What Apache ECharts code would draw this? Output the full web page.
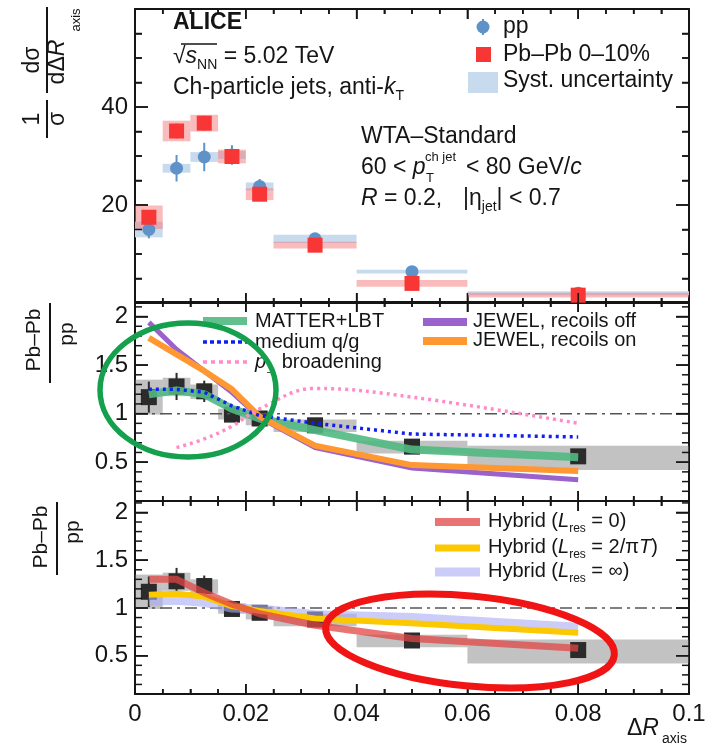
<!DOCTYPE html>
<html>
<head>
<meta charset="utf-8">
<title>ALICE WTA-Standard</title>
<script src="https://cdn.jsdelivr.net/npm/echarts@6/dist/echarts.min.js"></script>
<style>
  html, body { margin: 0; padding: 0; background: #fff; }
  #chart { width: 716px; height: 743px; }
</style>
</head>
<body>
<div id="chart"></div>
<script>
// bins in delta R_axis
var binLo = [0, 0.005, 0.01, 0.015, 0.02, 0.025, 0.04, 0.06];
var binHi = [0.005, 0.01, 0.015, 0.02, 0.025, 0.04, 0.06, 0.1];
var binX = [0.0025, 0.0075, 0.0125, 0.0175, 0.0225, 0.0325, 0.05, 0.08];

// top panel: normalised distributions
var ppVal = [15.0, 27.5, 29.8, 30.2, 23.8, 13.1, 6.4, 2.0];
var ppStat = [1.8, 2.7, 2.9, 2.0, 1.5, 0.6, 0.3, 0.2];
var ppSyst = [1.6, 0.9, 1.0, 0.8, 0.8, 0.85, 0.4, 0.4];
var pbVal = [17.5, 35.1, 36.7, 29.9, 22.2, 11.8, 4.0, 1.6];
var pbStat = [1.0, 1.5, 1.5, 1.5, 1.0, 0.5, 0.3, 0.2];
var pbSyst = [2.4, 2.1, 1.7, 1.4, 1.2, 0.7, 0.7, 0.5];

// Pb-Pb / pp ratio (same in both lower panels)
var ratio = [1.17, 1.28, 1.23, 0.99, 0.95, 0.88, 0.66, 0.56];
var ratioStat = [0.16, 0.14, 0.11, 0.04, 0.07, 0.03, 0.03, 0.03];
var ratioSystLo = [0.99, 1.18, 1.15, 0.94, 0.88, 0.81, 0.59, 0.42];
var ratioSystHi = [1.35, 1.37, 1.30, 1.05, 1.02, 0.94, 0.72, 0.67];

// models, middle panel
var matterLbt = [1.20, 1.24, 1.20, 1.05, 0.95, 0.83, 0.63, 0.55];
var mediumQg = [1.25, 1.25, 1.22, 1.08, 0.98, 0.90, 0.79, 0.76];
var ptBroad = [null, 0.65, 0.74, 0.87, 1.05, 1.26, 1.17, 0.90];
var jewelOff = [1.94, 1.66, 1.44, 1.22, 0.96, 0.65, 0.44, 0.32];
var jewelOn = [1.78, 1.61, 1.44, 1.25, 0.97, 0.67, 0.47, 0.41];

// models, bottom panel
var hybrid0 = [1.30, 1.30, 1.16, 1.04, 0.94, 0.82, 0.68, 0.58];
var hybrid2piT = [1.14, 1.15, 1.12, 1.02, 0.97, 0.89, 0.84, 0.74];
var hybridInf = [1.07, 1.08, 1.06, 1.00, 0.99, 0.93, 0.90, 0.80];

// ticks
var xMajorTicks = [0.02, 0.04, 0.06, 0.08];
var xMinorTicks = [0.005, 0.01, 0.015, 0.025, 0.03, 0.035, 0.045, 0.05, 0.055, 0.065, 0.07, 0.075, 0.085, 0.09, 0.095];
var topTicks = [20, 40];
var topMinorTicks = [5, 10, 15, 25, 30, 35, 45, 50, 55];
var ratioTicks = [0.5, 1, 1.5, 2];
var ratioMinorTicks = [0.2, 0.3, 0.4, 0.6, 0.7, 0.8, 0.9, 1.1, 1.2, 1.3, 1.4, 1.6, 1.7, 1.8, 1.9, 2.1];

var panelYMin = [0, 0.1, 0.1];
var panelYMax = [60, 2.15, 2.12];

var FONT = '"Liberation Sans", Arial, Helvetica, sans-serif';
var INK = '#151515';

var chart = echarts.init(document.getElementById('chart'));

function pairs(xs, ys) { return xs.map(function (x, i) { return [x, ys[i]]; }); }
function boxes(c, h) { return binLo.map(function (lo, i) { return [lo, binHi[i], c[i] - h[i], c[i] + h[i]]; }); }
function bandBoxes(lo, hi) { return binLo.map(function (l, i) { return [l, binHi[i], lo[i], hi[i]]; }); }
function bars(c, e) { return binX.map(function (x, i) { return [x, c[i] - e[i], c[i] + e[i]]; }); }

function boxRenderer(fill) {
    return function (params, api) {
        var a = api.coord([api.value(0), api.value(3)]);
        var b = api.coord([api.value(1), api.value(2)]);
        return { type: 'rect', shape: { x: a[0], y: a[1], width: b[0] - a[0], height: b[1] - a[1] }, style: { fill: fill } };
    };
}
function errRenderer(color, w) {
    return function (params, api) {
        var a = api.coord([api.value(0), api.value(1)]);
        var b = api.coord([api.value(0), api.value(2)]);
        return { type: 'line', shape: { x1: a[0], y1: a[1], x2: b[0], y2: b[1] }, style: { stroke: color, lineWidth: w } };
    };
}

// p = panel index (0 top, 1 middle, 2 bottom)
function boxSeries(p, data, fill) {
    return { type: 'custom', xAxisIndex: 2 * p, yAxisIndex: 2 * p, data: data, silent: true,
        encode: { x: [0, 1], y: [2, 3] }, renderItem: boxRenderer(fill) };
}
function errSeries(p, data, color, w) {
    return { type: 'custom', xAxisIndex: 2 * p, yAxisIndex: 2 * p, data: data, silent: true,
        encode: { x: 0, y: [1, 2] }, renderItem: errRenderer(color, w) };
}
function pointSeries(p, ys, symbol, size, color) {
    return { type: 'scatter', xAxisIndex: 2 * p, yAxisIndex: 2 * p, data: pairs(binX, ys),
        symbol: symbol, symbolSize: size, itemStyle: { color: color, opacity: 1 }, silent: true };
}
function modelSeries(p, ys, color, width, dash, smooth) {
    return { type: 'line', xAxisIndex: 2 * p, yAxisIndex: 2 * p, data: pairs(binX, ys),
        showSymbol: false, symbol: 'none', smooth: smooth || false, silent: true, connectNulls: false,
        lineStyle: { color: color, width: width, type: dash || 'solid', cap: 'butt', join: 'round' } };
}
function unitLine(p) {
    return { type: 'line', xAxisIndex: 2 * p, yAxisIndex: 2 * p, data: [[0, 1], [0.1, 1]],
        showSymbol: false, symbol: 'none', silent: true,
        lineStyle: { color: '#555', width: 1.5, type: [12, 5, 3, 5] } };
}

var AXIS_LINE = { show: true, onZero: false, lineStyle: { color: INK, width: 2 } };
var TICK_STYLE = { color: INK, width: 1.5 };

var grids = [
    { left: 135, right: 27, top: 9, height: 294 },
    { left: 135, right: 27, top: 302, height: 199 },
    { left: 135, right: 27, top: 501, height: 193 }
];

var xAxes = [];
var yAxes = [];
[0, 1, 2].forEach(function (g) {
    ['bottom', 'top'].forEach(function (pos) {
        xAxes.push({
            gridIndex: g, type: 'value', position: pos, min: 0, max: 0.1, interval: 0.02,
            axisLine: AXIS_LINE,
            axisTick: { show: true, inside: true, length: 10, lineStyle: TICK_STYLE },
            minorTick: { show: true, splitNumber: 4, length: 5, lineStyle: TICK_STYLE },
            splitLine: { show: false },
            axisLabel: { show: g === 2 && pos === 'bottom', margin: 8, fontSize: 24, color: INK, fontFamily: FONT }
        });
    });
    ['left', 'right'].forEach(function (pos) {
        var ax = {
            gridIndex: g, type: 'value', position: pos, min: panelYMin[g], max: panelYMax[g],
            axisLine: AXIS_LINE, splitLine: { show: false },
            axisTick: { show: true, inside: true, length: 13, lineStyle: TICK_STYLE },
            axisLabel: { show: pos === 'left', margin: 7, fontSize: 24, color: INK, fontFamily: FONT }
        };
        if (g === 0) {
            ax.interval = 20;
            ax.minorTick = { show: true, splitNumber: 4, length: 7, lineStyle: TICK_STYLE };
            ax.axisLabel.formatter = function (v) { return topTicks.indexOf(v) >= 0 ? String(v) : ''; };
        } else {
            ax.axisTick.customValues = ratioTicks;
            ax.axisLabel.customValues = ratioTicks;
        }
        yAxes.push(ax);
    });
});

var series = [
    // top panel
    boxSeries(0, boxes(ppVal, ppSyst), '#c8daee'),
    boxSeries(0, boxes(pbVal, pbSyst), 'rgba(244,120,120,0.5)'),
    errSeries(0, bars(ppVal, ppStat), '#5f92c8', 2),
    errSeries(0, bars(pbVal, pbStat), '#f93636', 2),
    pointSeries(0, ppVal, 'circle', 13, '#5f92c8'),
    pointSeries(0, pbVal, 'rect', 15, '#f93636'),

    // middle panel
    unitLine(1),
    modelSeries(1, matterLbt, 'rgba(80,185,130,0.9)', 8),
    modelSeries(1, jewelOff, '#9a62cc', 5),
    modelSeries(1, jewelOn, '#ff9830', 6),
    modelSeries(1, mediumQg, '#1020f0', 3.5, [3, 4]),
    modelSeries(1, ptBroad, '#ff8cc8', 3.5, [3, 4], 0.4),
    boxSeries(1, bandBoxes(ratioSystLo, ratioSystHi), 'rgba(120,120,120,0.45)'),
    errSeries(1, bars(ratio, ratioStat), '#2b2b2b', 2),
    pointSeries(1, ratio, 'rect', 16, '#2b2b2b'),

    // bottom panel
    unitLine(2),
    modelSeries(2, hybridInf, 'rgba(170,170,245,0.6)', 9),
    modelSeries(2, hybrid2piT, '#fcc800', 6),
    modelSeries(2, hybrid0, 'rgba(226,70,70,0.75)', 7),
    boxSeries(2, bandBoxes(ratioSystLo, ratioSystHi), 'rgba(120,120,120,0.45)'),
    errSeries(2, bars(ratio, ratioStat), '#2b2b2b', 2),
    pointSeries(2, ratio, 'rect', 16, '#2b2b2b')
];

// text helpers
function rich(size) {
    var sub = Math.round(size * 0.6);
    return {
        i: { fontStyle: 'italic', fontSize: size, fontFamily: FONT, fill: INK, color: INK, lineHeight: size + 8 },
        sub: { fontSize: sub, fontFamily: FONT, fill: INK, color: INK, verticalAlign: 'bottom', lineHeight: sub },
        sup: { fontSize: sub, fontFamily: FONT, fill: INK, color: INK, verticalAlign: 'top', lineHeight: sub }
    };
}
function txt(x, y, text, size, opt) {
    opt = opt || {};
    return {
        type: 'text', x: x, y: y, z: 100, silent: true, rotation: opt.rot || 0,
        style: { text: text, fontFamily: FONT, fontSize: size, fontWeight: opt.bold ? 'bold' : 'normal',
            fill: INK, align: opt.align || 'left', verticalAlign: 'middle', lineHeight: size + 8, rich: rich(size) }
    };
}
function seg(x1, y1, x2, y2, color, w, dash) {
    return { type: 'line', z: 100, silent: true, shape: { x1: x1, y1: y1, x2: x2, y2: y2 },
        style: { stroke: color, lineWidth: w, lineDash: dash || null } };
}
var R90 = Math.PI / 2;

var graphics = [
    // top panel annotations
    txt(173, 23, 'ALICE', 23, { bold: true }),
    txt(173, 57, '√{i|s}{sub|NN} = 5.02 TeV', 23),
    seg(181, 44, 217, 44, INK, 1.5),
    txt(173, 88, 'Ch-particle jets, anti-{i|k}{sub|T}', 23),
    txt(361, 137, 'WTA–Standard', 23),
    txt(361, 168, '60 < {i|p}', 23),
    txt(425, 157, 'ch jet', 13),
    txt(426, 178, 'T', 13),
    txt(466, 168, '< 80 GeV/{i|c}', 23),
    txt(361, 199, '{i|R} = 0.2,', 23),
    txt(463, 199, '|η{sub|jet}| < 0.7', 23),

    // top legend
    seg(483, 19, 483, 35, '#5f92c8', 2),
    { type: 'circle', z: 100, silent: true, shape: { cx: 483, cy: 27, r: 6.5 }, style: { fill: '#5f92c8' } },
    txt(503, 27, 'pp', 23),
    { type: 'rect', z: 100, silent: true, shape: { x: 476, y: 47, width: 15, height: 15 }, style: { fill: '#f93636' } },
    txt(503, 55, 'Pb–Pb 0–10%', 23),
    { type: 'rect', z: 100, silent: true, shape: { x: 468, y: 72, width: 30, height: 21 }, style: { fill: '#c8daee' } },
    txt(503, 81, 'Syst. uncertainty', 23),

    // middle legend
    seg(203, 321, 247, 321, 'rgba(80,185,130,0.9)', 8),
    txt(255, 321, 'MATTER+LBT', 20),
    seg(203, 342, 247, 342, '#1020f0', 3.5, [4, 3]),
    txt(255, 342, 'medium q/g', 20),
    seg(203, 362, 247, 362, '#ff8cc8', 3.5, [4, 4]),
    txt(255, 362, '{i|p}{sub|⊥} broadening', 20),
    seg(423, 322, 467, 322, '#9a62cc', 8),
    txt(473, 321, 'JEWEL, recoils off', 20),
    seg(423, 341, 467, 341, '#ff9830', 8),
    txt(473, 340, 'JEWEL, recoils on', 20),

    // bottom legend
    seg(435, 522, 480, 522, 'rgba(226,70,70,0.75)', 8),
    txt(488, 521, 'Hybrid ({i|L}{sub|res} = 0)', 20),
    seg(435, 548, 480, 548, '#fcc800', 7),
    txt(488, 547, 'Hybrid ({i|L}{sub|res} = 2/π{i|T})', 20),
    seg(435, 572, 480, 572, 'rgba(170,170,245,0.6)', 9),
    txt(488, 571, 'Hybrid ({i|L}{sub|res} = ∞)', 20),

    // y titles
    txt(33, 119, '1', 23, { rot: R90, align: 'center' }),
    seg(47, 100, 47, 138, INK, 2),
    txt(58, 119, 'σ', 23, { rot: R90, align: 'center' }),
    txt(33, 60, 'dσ', 23, { rot: R90, align: 'center' }),
    seg(47, 7, 47, 93, INK, 2),
    txt(58, 62, 'dΔ{i|R}', 23, { rot: R90, align: 'center' }),
    txt(76, 20, 'axis', 13, { rot: R90, align: 'center' }),

    txt(34, 340, 'Pb–Pb', 21, { rot: R90, align: 'center' }),
    seg(50, 303, 50, 383, INK, 2),
    txt(67, 334, 'pp', 21, { rot: R90, align: 'center' }),

    txt(41, 537, 'Pb–Pb', 21, { rot: R90, align: 'center' }),
    seg(57, 502, 57, 575, INK, 2),
    txt(73, 532, 'pp', 21, { rot: R90, align: 'center' }),

    // x title
    txt(627, 729, 'Δ{i|R}', 23),
    txt(662, 739, 'axis', 14),

    // highlighted regions
    { type: 'ellipse', z: 110, silent: true, shape: { cx: 188, cy: 390, rx: 88, ry: 67 },
        style: { fill: 'none', stroke: '#14a04c', lineWidth: 5.5 } },
    { type: 'ellipse', z: 110, silent: true, x: 470, y: 641, rotation: -0.097,
        shape: { cx: 0, cy: 0, rx: 145, ry: 45 },
        style: { fill: 'none', stroke: '#f01414', lineWidth: 7 } }
];

chart.setOption({
    animation: false,
    backgroundColor: '#fff',
    grid: grids,
    xAxis: xAxes,
    yAxis: yAxes,
    series: series,
    graphic: { elements: graphics }
});

// inward ticks on all four sides, placed through the axes' own scales
var tickEls = [];
try {
    [0, 1, 2].forEach(function (p) {
        var yMajor = p === 0 ? topTicks : ratioTicks;
        var yMinor = p === 0 ? topMinorTicks : ratioMinorTicks;
        var xL = chart.convertToPixel({ xAxisIndex: 2 * p }, 0);
        var xR = chart.convertToPixel({ xAxisIndex: 2 * p }, 0.1);
        var yB = chart.convertToPixel({ yAxisIndex: 2 * p }, panelYMin[p]);
        var yT = chart.convertToPixel({ yAxisIndex: 2 * p }, panelYMax[p]);
        function xTick(v, len) {
            var x = chart.convertToPixel({ xAxisIndex: 2 * p }, v);
            tickEls.push(seg(x, yB, x, yB - len, INK, 1.5));
            tickEls.push(seg(x, yT, x, yT + len, INK, 1.5));
        }
        function yTick(v, len) {
            var y = chart.convertToPixel({ yAxisIndex: 2 * p }, v);
            tickEls.push(seg(xL, y, xL + len, y, INK, 1.5));
            tickEls.push(seg(xR, y, xR - len, y, INK, 1.5));
        }
        xMajorTicks.forEach(function (v) { xTick(v, 10); });
        xMinorTicks.forEach(function (v) { xTick(v, 5); });
        yMajor.forEach(function (v) { yTick(v, 13); });
        yMinor.forEach(function (v) { yTick(v, 7); });
    });
    chart.setOption({ graphic: { elements: graphics.concat(tickEls) } });
} catch (e) {
    console.log(e);
}
</script>
</body>
</html>
